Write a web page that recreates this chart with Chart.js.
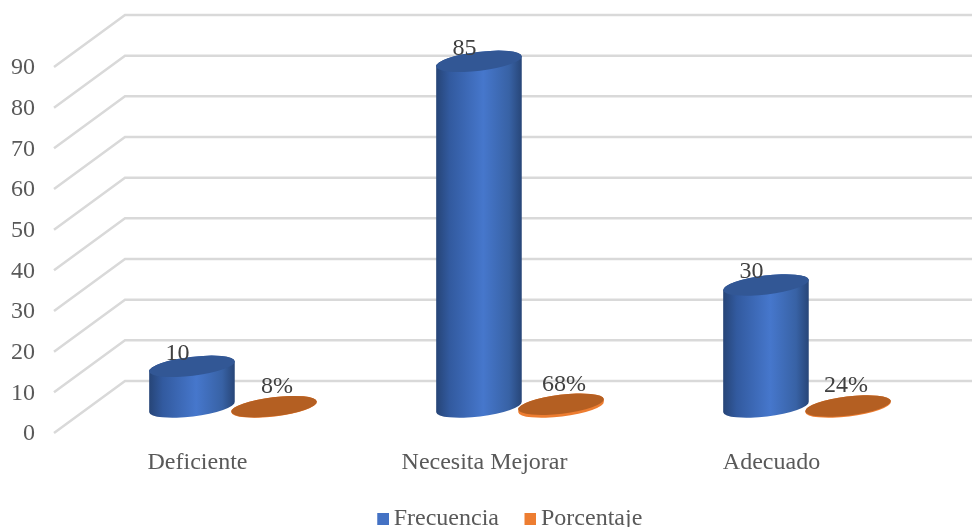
<!DOCTYPE html>
<html lang="es">
<head>
<meta charset="utf-8">
<title>Frecuencia y porcentaje</title>
<script src="https://cdn.jsdelivr.net/npm/chart.js@4"></script>
<style>
  html, body { margin: 0; padding: 0; background: #ffffff; overflow: hidden; }
  canvas { display: block; }
</style>
</head>
<body>
<canvas id="chart" width="972" height="527"></canvas>
<script>
const categories = ['Deficiente', 'Necesita Mejorar', 'Adecuado'];
const frecuencia = [10, 85, 30];
const porcentaje = [0.08, 0.68, 0.24];
const axisMax = 90;
const axisStep = 10;

const FONT = 'Liberation Serif';
const WALL_DX = 71, WALL_DY = 53;   // depth of the floor, axis to back wall
const BAR_DX = 35.5, BAR_DY = 27;   // cylinders stand halfway along the floor
const TILT = -0.12;
const RY = 9.5;
const PCT_LABEL_DX = [0, 0, -5];    // nudges the last % label clear of its neighbour

// legend swatch as a canvas, square pushed right so it sits close to its text
function swatch(color) {
    const c = document.createElement('canvas');
    c.width = 30;
    c.height = 12;
    const g = c.getContext('2d');
    g.fillStyle = color;
    g.fillRect(18, 0, 12, 12);
    return c;
}

// floor diagonals and back wall lines, one per y tick
const wallPlugin = {
    id: 'wall',
    beforeDatasetsDraw(chart) {
        const { ctx, scales: { y } } = chart;
        ctx.save();
        ctx.strokeStyle = '#d9d9d9';
        ctx.lineWidth = 2.5;
        y.ticks.forEach(t => {
            const py = y.getPixelForValue(t.value);
            ctx.beginPath();
            ctx.moveTo(y.right, py - 1);
            ctx.lineTo(y.right + WALL_DX, py - WALL_DY);
            ctx.lineTo(chart.width, py - WALL_DY);
            ctx.stroke();
        });
        ctx.restore();
    }
};

function drawCylinder(ctx, bar, sideFill, topFill) {
    const cx = bar.x + BAR_DX;
    const rx = bar.width / 2;
    const topY = bar.y - BAR_DY;
    const baseY = bar.base - BAR_DY;
    ctx.beginPath();
    ctx.ellipse(cx, topY, rx, RY, TILT, Math.PI, 0, false);
    ctx.ellipse(cx, baseY, rx, RY, TILT, 0, Math.PI, false);
    ctx.closePath();
    if (sideFill === 'shaded') {
        const grad = ctx.createLinearGradient(cx - rx, 0, cx + rx, 0);
        grad.addColorStop(0, '#264476');
        grad.addColorStop(0.16, '#325a9f');
        grad.addColorStop(0.55, '#4677cc');
        grad.addColorStop(0.85, '#3862a5');
        grad.addColorStop(1, '#274577');
        ctx.fillStyle = grad;
    } else {
        ctx.fillStyle = sideFill;
    }
    ctx.fill();
    ctx.beginPath();
    ctx.ellipse(cx, topY, rx, RY, TILT, 0, Math.PI * 2);
    ctx.fillStyle = topFill;
    ctx.fill();
}

// replaces the flat bars; positions still come from the bar elements
const cylinderPlugin = {
    id: 'cylinders',
    beforeDatasetsDraw(chart) {
        const { ctx } = chart;
        const freq = chart.getDatasetMeta(0).data;
        const pct = chart.getDatasetMeta(1).data;
        ctx.save();
        categories.forEach((c, i) => {
            drawCylinder(ctx, freq[i], 'shaded', '#325795');
            drawCylinder(ctx, pct[i], '#ed7d31', '#b45f22');
        });
        ctx.font = '24px "' + FONT + '"';
        ctx.fillStyle = '#404040';
        ctx.textAlign = 'center';
        ctx.textBaseline = 'middle';
        categories.forEach((c, i) => {
            ctx.fillText(String(frecuencia[i]), freq[i].x + BAR_DX - 14.5, freq[i].y - BAR_DY - 13);
            ctx.fillText(Math.round(porcentaje[i] * 100) + '%', pct[i].x + BAR_DX + 3 + PCT_LABEL_DX[i], pct[i].y - BAR_DY - 20);
        });
        ctx.restore();
        return false;
    }
};

// legend row sits lower and further right than the default bottom slot
const legendNudge = {
    id: 'legendNudge',
    afterLayout(chart) {
        const l = chart.legend;
        l.left += 47;
        l.right += 47;
        l.top += 14;
        l.bottom += 14;
    }
};

new Chart(document.getElementById('chart'), {
    type: 'bar',
    data: {
        labels: categories,
        datasets: [
            { label: 'Frecuencia', data: frecuencia, backgroundColor: '#4472c4' },
            { label: 'Porcentaje', data: porcentaje, backgroundColor: '#ed7d31' }
        ]
    },
    options: {
        responsive: false,
        animation: false,
        categoryPercentage: 0.572,
        barPercentage: 1.05,
        layout: { padding: { top: 68, right: 57, left: 0, bottom: 0 } },
        scales: {
            x: {
                grid: { display: false },
                border: { display: false },
                afterFit(s) { s.height = 44; },
                ticks: {
                    color: '#595959',
                    font: { family: FONT, size: 24 },
                    padding: 6,
                    maxRotation: 0,
                    autoSkip: false
                }
            },
            y: {
                min: 0,
                max: axisMax,
                grid: { display: false },
                border: { display: false },
                afterFit(s) { s.width = 54; },
                ticks: {
                    stepSize: axisStep,
                    color: '#595959',
                    font: { family: FONT, size: 24 },
                    padding: 11
                }
            }
        },
        plugins: {
            tooltip: { enabled: false },
            legend: {
                position: 'bottom',
                labels: {
                    usePointStyle: true,
                    pointStyleWidth: 15,
                    padding: 15,
                    color: '#595959',
                    font: { family: FONT, size: 24 },
                    generateLabels(chart) {
                        return Chart.defaults.plugins.legend.labels.generateLabels(chart).map((item, i) => {
                            item.pointStyle = swatch(chart.data.datasets[i].backgroundColor);
                            return item;
                        });
                    }
                }
            }
        }
    },
    plugins: [wallPlugin, cylinderPlugin, legendNudge]
});
</script>
</body>
</html>
